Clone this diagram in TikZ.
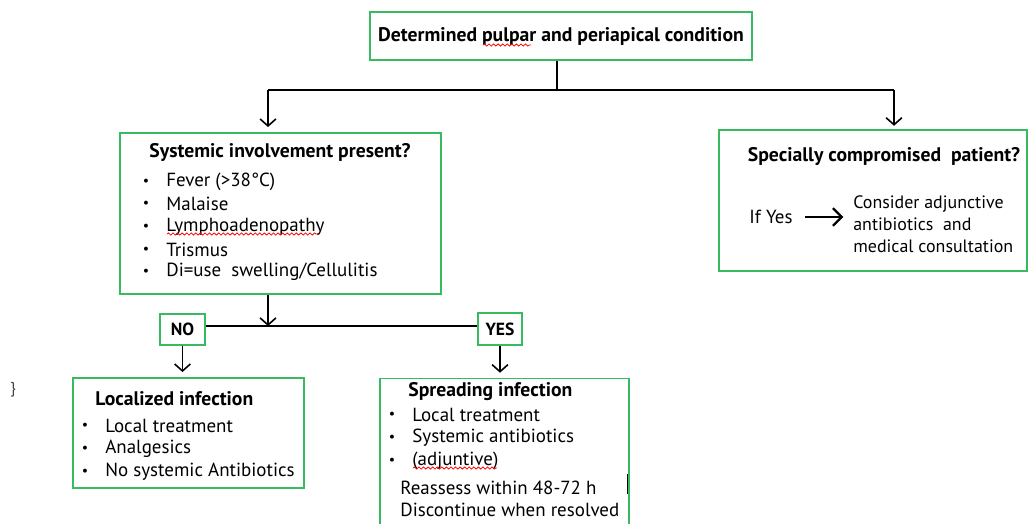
\documentclass[tikz,border=0pt]{standalone}
\usepackage{fontspec}
\setmainfont{PT Sans}
\usepackage{xcolor}
\usetikzlibrary{arrows.meta,positioning,decorations.pathmorphing}
\definecolor{boxgreen}{RGB}{56,186,96}
\tikzset{
  stepbox/.style={draw=boxgreen, line width=0.8pt, fill=white, inner sep=0pt},
  headtext/.style={font=\fontsize{11.2}{13}\selectfont\bfseries, inner sep=0pt},
  itemtext/.style={font=\fontsize{10.8}{12}\selectfont, anchor=west, inner sep=0pt},
  dotmark/.style={font=\fontsize{8}{10}\selectfont, inner sep=0pt},
  flowline/.style={line width=1.1pt},
  flowarrow/.style={-{Straight Barb[length=4pt,width=9pt]}, line width=0.9pt},
  spellmark/.style={red, line width=0.45pt, decorate,
                    decoration={snake, amplitude=0.6pt, segment length=2.6pt}}
}
\begin{document}
\begin{tikzpicture}[x=0.02cm,y=-0.02cm]
  \useasboundingbox (0,0) rectangle (1028,524);

  % top question
  \node[stepbox, headtext, minimum width=7.64cm, minimum height=0.96cm] (cond) at (561,36)
    {Determined pulpar and periapical condition};
  \draw[spellmark] (483,45) -- (531,45);

  \coordinate (split)  at (557,90);
  \coordinate (splitL) at (268,90);
  \coordinate (splitR) at (894,90);
  \draw[flowline] (cond.south -| split) -- (split);
  \draw[line width=1.7pt] (splitL) -- (splitR);

  % systemic involvement
  \node[stepbox, minimum width=6.42cm, minimum height=3.22cm] (sys) at (280.5,213.5) {};
  \node[headtext] (sysT) at (280,152) {Systemic involvement present?};
  \foreach \y/\t [count=\i] in {182/{Fever (>38°C)}, 204/Malaise, 227/Lymphoadenopathy,
                                250/Trismus, 272/{Di=use\ \ swelling/Cellulitis}}{
    \node[dotmark] (sysB\i) at (146,\y) {\textbullet};
    \node[itemtext] (sysI\i) at (166,\y) {\t};
  }
  \draw[spellmark] (167,234) -- (318,234);

  \draw[flowarrow, shorten >=3pt] (splitL) -- (splitL |- sys.north);

  % specially compromised patient
  \node[stepbox, minimum width=6.16cm, minimum height=2.82cm] (comp) at (873,200.5) {};
  \node[headtext] (compT) at (884,156) {Specially compromised\ \ patient?};
  \node[itemtext] (ifyes) at (749,217) {If Yes};
  \node[itemtext, align=left, font=\fontsize{10.2}{12.5}\selectfont] (consider) at (853,224)
    {Consider adjunctive\\antibiotics\ \ and\\medical consultation};
  \draw[-{Straight Barb[length=5pt,width=10pt]}, line width=1.3pt, shorten <=7pt, shorten >=5.5pt]
    (ifyes.east) -- (consider.west |- ifyes.east);

  \draw[flowarrow, shorten >=2pt] (splitR) -- (splitR |- comp.north);

  % yes / no branch
  \coordinate (branch) at (268,326);
  \draw[flowarrow] (branch |- sys.south) -- (branch);
  \node[stepbox, font=\fontsize{10}{11}\selectfont\bfseries, minimum width=0.9cm, minimum height=0.62cm] (no) at (182.5,329.5) {NO};
  \node[stepbox, font=\fontsize{10}{11}\selectfont\bfseries, minimum width=0.88cm, minimum height=0.64cm] (yes) at (500,329) {YES};
  \draw[flowline] (no.east |- branch) -- (yes.west |- branch);

  % localized infection
  \node[stepbox, minimum width=4.62cm, minimum height=2.2cm] (loc) at (188.5,433) {};
  \node[headtext, anchor=west] (locT) at (95,399) {Localized infection};
  \foreach \y/\t [count=\i] in {426/Local treatment, 449/Analgesics, 472/No systemic Antibiotics}{
    \node[dotmark] (locB\i) at (85,\y) {\textbullet};
    \node[itemtext] (locI\i) at (105,\y) {\t};
  }
  \draw[flowarrow, shorten >=3pt] (no.south) -- (no.south |- loc.north);

  % spreading infection
  \node[stepbox, minimum width=4.98cm, minimum height=3.1cm, anchor=north] (spr) at (504.5,378) {};
  \node[headtext, anchor=west] (sprT) at (408,392) {Spreading infection};
  \foreach \y/\t [count=\i] in {415/Local treatment, 438/Systemic antibiotics, 461/(adjuntive)}{
    \node[dotmark] (sprB\i) at (392,\y) {\textbullet};
    \node[itemtext] (sprI\i) at (412,\y) {\t};
  }
  \node[itemtext] (sprL1) at (400,488) {Reassess within 48-72 h};
  \node[itemtext] (sprL2) at (400,510) {Discontinue when resolved};
  \draw[spellmark] (413,468) -- (497,468);
  \draw[flowarrow, shorten >=3pt] (yes.south) -- (yes.south |- spr.north);

  % stray marks
  \draw[line width=1pt] (627.5,474) -- (627.5,494);
  \node[font=\fontsize{9}{10}\selectfont, text=black!75, inner sep=0pt] (stray) at (13,390) {\}};
\end{tikzpicture}
\end{document}
